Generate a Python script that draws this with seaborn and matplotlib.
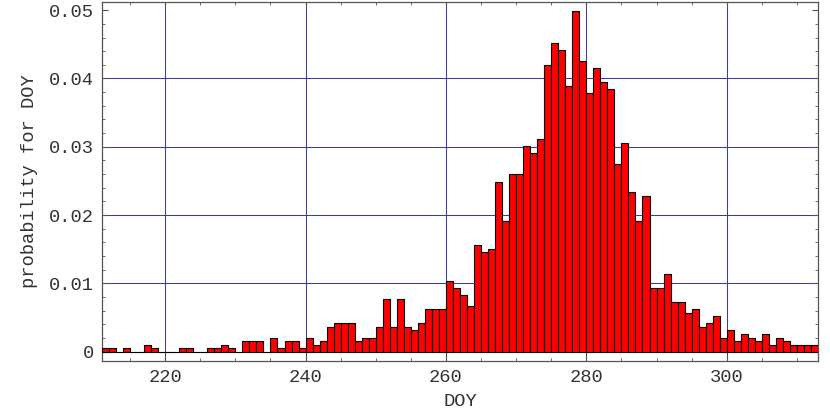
import numpy as np
import matplotlib
matplotlib.use("Agg")
import matplotlib.pyplot as plt
from matplotlib.ticker import MultipleLocator, FuncFormatter
import seaborn as sns

# day of year and number of cases per day
doy = list(range(211, 313))
counts = [1, 1, 0, 1, 0, 0, 2, 1, 0, 0,
          0, 1, 1, 0, 0, 1, 1, 2, 1, 0,
          3, 3, 3, 0, 4, 1, 3, 3, 1, 4,
          2, 3, 7, 8, 8, 8, 3, 4, 4, 7,
          15, 7, 15, 7, 6, 8, 12, 12, 12, 20,
          18, 16, 13, 30, 28, 29, 48, 37, 50, 50,
          58, 56, 60, 81, 87, 85, 75, 96, 82, 73,
          80, 76, 74, 53, 59, 45, 37, 44, 18, 18,
          22, 14, 14, 11, 12, 7, 8, 10, 4, 6,
          3, 5, 4, 3, 5, 2, 4, 3, 2, 2,
          2, 2]
total = sum(counts)
prob = [c / total for c in counts]

sns.set_style("ticks")
plt.rcParams['font.family'] = ['Liberation Mono', 'DejaVu Sans']

fig = plt.figure(figsize=(8.3, 4.15), dpi=100)
ax = fig.add_axes([0.1229, 0.1301, 0.8626, 0.8651])

grid_col = '#3c3ca0'
sns.histplot(x=doy, weights=prob, binwidth=1, binrange=(doy[0], doy[-1] + 1),
             color='#ff0000', edgecolor='black', linewidth=0.8, alpha=1,
             ax=ax, zorder=3)

ax.set_xlim(211, 313)
ax.set_ylim(-0.00136, 0.0512)

ax.xaxis.set_major_locator(MultipleLocator(20))
ax.xaxis.set_minor_locator(MultipleLocator(5))
ax.set_yticks([0, 0.01, 0.02, 0.03, 0.04, 0.05])
ax.yaxis.set_minor_locator(MultipleLocator(0.002))
ax.yaxis.set_major_formatter(FuncFormatter(lambda v, p: '0' if v == 0 else f'{v:.2f}'))

ax.grid(True, which='major', color=grid_col, linewidth=0.75, zorder=0)
ax.yaxis.get_gridlines()[-1].set_visible(False)
ax.set_axisbelow(True)

ax.tick_params(which='both', direction='in', top=True, right=True,
               color='#555555', labelsize=13.5, labelcolor='#333333')
ax.tick_params(which='major', length=4, width=0.8, pad=6)
ax.tick_params(which='minor', length=2.5, width=0.6)
for s in ax.spines.values():
    s.set_color('#555555')
    s.set_linewidth(0.9)

ax.set_xlabel('DOY', fontsize=13.5, color='#333333', labelpad=5)
ax.set_ylabel('probability for DOY', fontsize=13.5, color='#333333', labelpad=8)

fig.savefig('out.png', dpi=100)
